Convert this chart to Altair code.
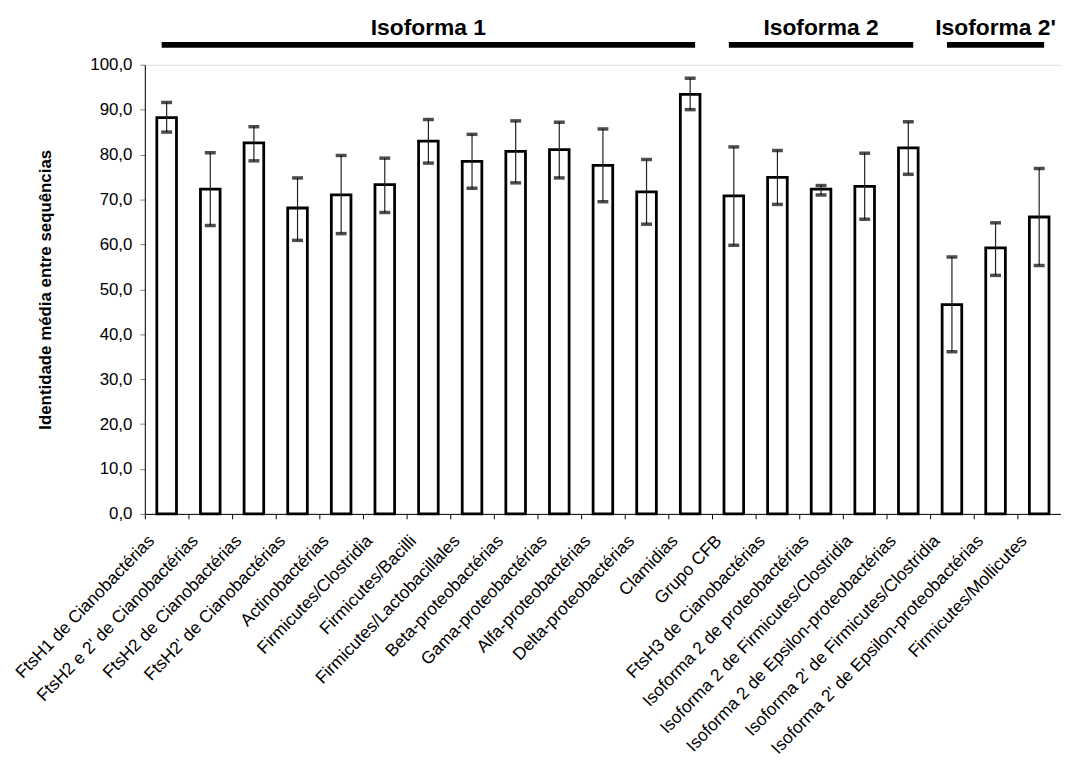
import altair as alt
import pandas as pd

categories = [
    "FtsH1 de Cianobactérias",
    "FtsH2 e 2' de Cianobactérias",
    "FtsH2 de Cianobactérias",
    "FtsH2' de Cianobactérias",
    "Actinobactérias",
    "Firmicutes/Clostridia",
    "Firmicutes/Bacilli",
    "Firmicutes/Lactobacillales",
    "Beta-proteobactérias",
    "Gama-proteobactérias",
    "Alfa-proteobactérias",
    "Delta-proteobactérias",
    "Clamidias",
    "Grupo CFB",
    "FtsH3 de Cianobactérias",
    "Isoforma 2 de proteobactérias",
    "Isoforma 2 de Firmicutes/Clostridia",
    "Isoforma 2 de Epsilon-proteobactérias",
    "Isoforma 2' de Firmicutes/Clostridia",
    "Isoforma 2' de Epsilon-proteobactérias",
    "Firmicutes/Mollicutes",
]
means = [88.2, 72.3, 82.6, 68.1, 71.0, 73.3, 83.0, 78.5, 80.7, 81.1, 77.6,
         71.7, 93.4, 70.8, 74.9, 72.3, 72.9, 81.5, 46.6, 59.2, 66.1]
err_low = [85.0, 64.2, 78.6, 60.9, 62.4, 67.1, 78.1, 72.5, 73.7, 74.8, 69.5,
           64.5, 90.0, 59.8, 68.9, 71.0, 65.6, 75.6, 36.1, 53.1, 55.3]
err_high = [91.6, 80.4, 86.2, 74.8, 79.8, 79.2, 87.8, 84.5, 87.5, 87.2, 85.7,
            78.9, 97.0, 81.7, 80.9, 73.1, 80.3, 87.3, 57.2, 64.8, 76.9]

groups = ["Isoforma 1", "Isoforma 2", "Isoforma 2'"]
group_first = ["FtsH1 de Cianobactérias", "Grupo CFB", "Isoforma 2' de Firmicutes/Clostridia"]
group_last = ["Clamidias", "Isoforma 2 de Epsilon-proteobactérias", "Firmicutes/Mollicutes"]
group_mid = ["Firmicutes/Bacilli", "Isoforma 2 de proteobactérias", "Isoforma 2' de Epsilon-proteobactérias"]

df = pd.DataFrame({"cat": categories, "mean": means, "lo": err_low, "hi": err_high})
gdf = pd.DataFrame({"group": groups, "first": group_first, "last": group_last, "mid": group_mid})

FONT = "Liberation Sans"
W = 924
STEP = W / len(categories)

xscale = alt.Scale(domain=categories, paddingInner=0.55, paddingOuter=0.275)
yscale = alt.Scale(domain=[0, 100], nice=False, zero=True)

x_axis = alt.Axis(
    title=None, labelAngle=-46, labelAlign="right", labelBaseline="top",
    tickOffset=-STEP / 2, labelOffset=0, labelFontSize=17.5, labelFont=FONT,
    labelColor="black", domainColor="black", tickColor="black", tickSize=5,
    labelPadding=13, labelLimit=0, labelOverlap=False,
)
y_axis = alt.Axis(
    values=list(range(0, 101, 10)),
    labelExpr="replace(format(datum.value, '.1f'), '.', ',')",
    title="Identidade média entre sequências", titleFont=FONT, titleFontSize=17,
    titleFontWeight="bold", titleColor="black", titlePadding=36,
    labelFont=FONT, labelFontSize=17, labelColor="black", labelPadding=8,
    grid=False, tickColor="gray", tickSize=5, domainColor="black",
)


def X(field):
    return alt.X(field, type="nominal", scale=xscale, axis=x_axis)


def Y(field):
    return alt.Y(field, type="quantitative", scale=yscale, axis=y_axis)


base = alt.Chart(df)

bars = base.mark_bar(fill="white", stroke="black", strokeWidth=2.8).encode(
    x=X("cat"), y=Y("mean"),
)
err = base.mark_rule(color="#222222", strokeWidth=1.2).encode(
    x=X("cat"), y=Y("lo"), y2="hi:Q",
)
cap_lo = base.mark_tick(color="black", size=11, thickness=3.5).encode(
    x=X("cat"), y=Y("lo"),
)
cap_hi = base.mark_tick(color="black", size=11, thickness=3.5).encode(
    x=X("cat"), y=Y("hi"),
)

gbase = alt.Chart(gdf)
glines = gbase.mark_rule(color="black", strokeWidth=6, xOffset=-5, x2Offset=5).encode(
    x=X("first"),
    x2="last:N",
    y=alt.value(-20),
)
gtext = gbase.mark_text(font=FONT, fontSize=23, fontWeight="bold", color="black",
                        baseline="alphabetic", align="center").encode(
    x=X("mid"),
    y=alt.value(-30),
    text="group:N",
)

chart = alt.layer(bars, err, cap_lo, cap_hi, glines, gtext).properties(
    width=W, height=453,
    padding={"left": 138, "top": 54, "right": 0, "bottom": 244},
    autosize=alt.AutoSizeParams(type="none"),
).configure_view(stroke=None).configure(background="white")

chart.save("out.html", embed_options={"renderer": "svg", "actions": False})
